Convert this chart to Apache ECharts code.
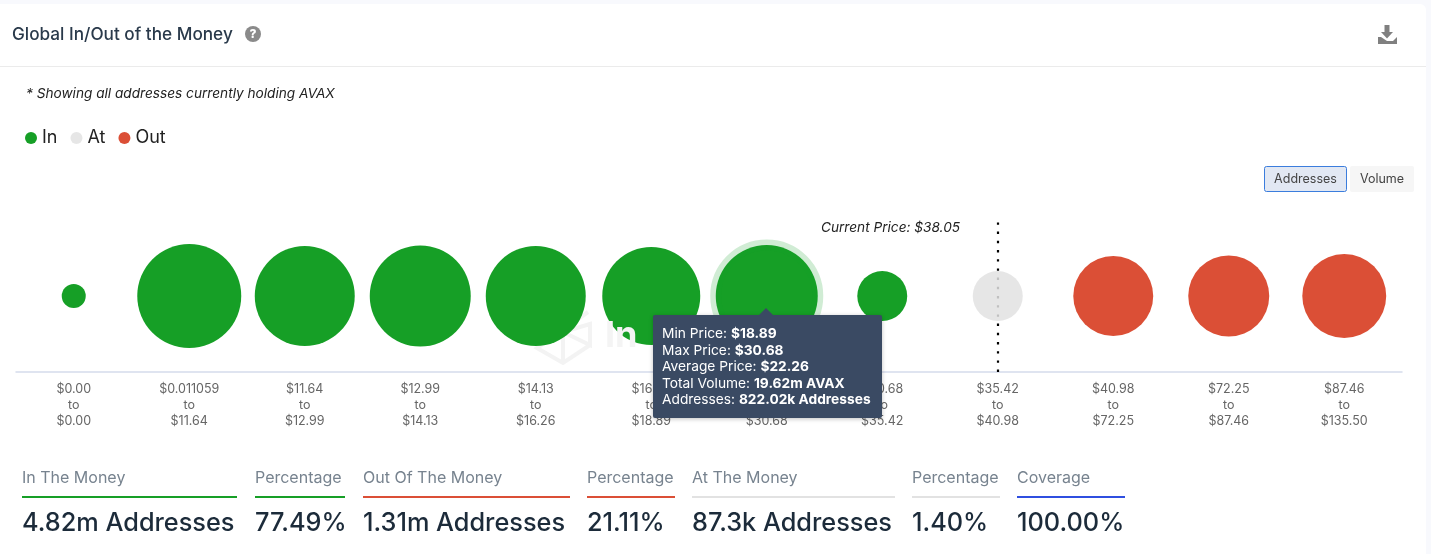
<!DOCTYPE html>
<html>
<head>
<meta charset="utf-8">
<title>Global In/Out of the Money</title>
<style>
html, body { margin: 0; padding: 0; background: #f8f9fd; }
#main { width: 1431px; height: 554px; }
</style>
<script src="https://cdn.jsdelivr.net/npm/echarts@6/dist/echarts.min.js"></script>
</head>
<body>
<div id="main"></div>
<script>
// price buckets
var priceFrom = ['$0.00', '$0.011059', '$11.64', '$12.99', '$14.13', '$16.26', '$18.89', '$30.68', '$35.42', '$40.98', '$72.25', '$87.46'];
var priceTo = ['$0.00', '$11.64', '$12.99', '$14.13', '$16.26', '$18.89', '$30.68', '$35.42', '$40.98', '$72.25', '$87.46', '$135.50'];

// addresses per bucket, in thousands (except the hovered one and At)
var inAddresses = [8.7, 873, 772, 797, 772, 725, 822.02, 87];
var atAddresses = [87.3];
var outAddresses = [382, 398, 445];

var tipLabels = ['Min Price', 'Max Price', 'Average Price', 'Total Volume', 'Addresses'];
var tipValues = ['$18.89', '$30.68', '$22.26', '19.62m AVAX', '822.02k Addresses'];

var statLabels = ['In The Money', 'Percentage', 'Out Of The Money', 'Percentage', 'At The Money', 'Percentage', 'Coverage'];
var statValues = ['4.82m Addresses', '77.49%', '1.31m Addresses', '21.11%', '87.3k Addresses', '1.40%', '100.00%'];

var HOVER_INDEX = 6;
var GREEN = '#169f26', RED = '#db4f36', GREY = '#e2e2e2';
var FONT = 'Inter';

var chart = echarts.init(document.getElementById('main'));

//气泡大小
function bubbleSize(val) {
    return 12.07 * Math.pow(val[2], 0.318);
}

function bubbleData(values, start) {
    return values.map(function (v, i) {
        var item = { value: [start + i, 0.5, v] };
        if (start + i == HOVER_INDEX) {
            item.itemStyle = { borderColor: 'rgba(22,159,38,0.2)', borderWidth: 11 };
        }
        return item;
    });
}

function text(x, y, str, size, color, extra) {
    var style = { x: x, y: y, text: str, fontSize: size, fill: color, fontFamily: FONT, verticalAlign: 'middle' };
    for (var k in extra) style[k] = extra[k];
    return { type: 'text', silent: true, z: 5, style: style };
}

function rect(x, y, w, h, fill, extra) {
    var el = { type: 'rect', silent: true, z: 1, shape: { x: x, y: y, width: w, height: h, r: (extra && extra.r) || 0 },
        style: { fill: fill, stroke: (extra && extra.stroke) || null, lineWidth: 1 } };
    return el;
}

function poly(points, fill) {
    return { type: 'polygon', silent: true, z: 5, shape: { points: points }, style: { fill: fill } };
}

function buildGraphic() {
    var g = [];
    // card
    g.push({ type: 'rect', silent: true, z: 0, shape: { x: -8, y: 4, width: 1434, height: 560, r: 6 }, style: { fill: '#fff' } });
    g.push(rect(0, 66, 1426, 1, '#ebebeb'));

    // header
    g.push(text(12, 34.5, 'Global In/Out of the Money', 17.2, '#2a3a4b', { fontWeight: 500 }));
    g.push({ type: 'circle', silent: true, z: 5, shape: { cx: 253, cy: 34, r: 8 }, style: { fill: '#8a8a8a' } });
    g.push(text(253, 34.5, '?', 12, '#fff', { fontWeight: 800, align: 'center' }));
    g.push(rect(1384.5, 25, 5, 7, '#808080'));
    g.push(poly([[1381, 32], [1393, 32], [1387, 38.5]], '#808080'));
    g.push(poly([[1378, 37], [1381, 37], [1387, 41], [1393, 41], [1397, 37], [1397, 44], [1378, 44]], '#808080'));
    g.push(text(26, 93.5, '* Showing all addresses currently holding AVAX', 13.65, '#222', { fontStyle: 'italic' }));

    // switch buttons
    g.push(rect(1264.5, 166.5, 82, 25, '#e2e8f3', { stroke: '#3b7ddd', r: 2 }));
    g.push(rect(1350, 166, 64, 26, '#f6f6f6', { r: 2 }));
    g.push(text(1305.5, 179.5, 'Addresses', 12.5, '#444', { align: 'center' }));
    g.push(text(1382, 179.5, 'Volume', 12.5, '#444', { align: 'center' }));

    // watermark, mostly hidden by bubbles
    g.push({ type: 'polyline', silent: true, z: 1, shape: { points: [[588, 312], [537, 348], [563, 363], [590, 345]] },
        style: { stroke: '#f3f3f3', lineWidth: 4, fill: null } });
    g.push({ type: 'polyline', silent: true, z: 1, shape: { points: [[563, 363], [563, 332], [590, 324], [590, 345], [563, 332]] },
        style: { stroke: '#f3f3f3', lineWidth: 4, fill: null } });
    g.push(text(605, 336, 'In', 36, '#f4f4f4', { fontWeight: 700 }));

    g.push(text(960, 227.5, 'Current Price: $38.05', 13.65, '#222', { fontStyle: 'italic', align: 'right' }));

    // stats below the chart
    var statLeft = [22, 255, 363, 587, 692, 912, 1017];
    var statRight = [237, 345, 570, 675, 895, 1000, 1125];
    var statColor = [GREEN, GREEN, RED, RED, GREY, GREY, '#2f4fe0'];
    for (var i = 0; i < statLabels.length; i++) {
        g.push(text(statLeft[i], 478, statLabels[i], 16, '#77838f'));
        g.push(rect(statLeft[i], 496, statRight[i] - statLeft[i], 2, statColor[i]));
        g.push(text(statLeft[i], 523.5, statValues[i], 25.3, '#1c2b3a', { fontWeight: 500 }));
    }
    return g;
}

var option = {
    animation: false,
    backgroundColor: 'transparent',
    textStyle: { fontFamily: FONT },
    legend: {
        left: 25, top: 129,
        padding: 0,
        itemWidth: 12, itemHeight: 12, itemGap: 13,
        icon: 'circle',
        selectedMode: false,
        textStyle: { fontSize: 18, color: '#222', fontFamily: FONT },
        data: ['In', 'At', 'Out']
    },
    grid: { left: 16, width: 1386, top: 220, height: 152 },
    xAxis: {
        type: 'category',
        data: priceFrom.map(function (p, i) { return p + '\nto\n' + priceTo[i]; }),
        axisTick: { show: false },
        axisLine: { lineStyle: { color: '#d5dcec', width: 1.5 } },
        axisLabel: { interval: 0, margin: 9, lineHeight: 16, fontSize: 12.5, color: '#666', fontFamily: FONT },
        splitLine: { show: false }
    },
    yAxis: { type: 'value', min: 0, max: 1, show: false },
    tooltip: {
        trigger: 'item',
        alwaysShowContent: true,
        transitionDuration: 0,
        padding: [10, 11, 10, 9],
        backgroundColor: '#3a4a63',
        borderWidth: 0,
        extraCssText: 'border-radius:2px;box-shadow:0 1px 4px rgba(0,0,0,.25);line-height:16.6px;overflow:visible;',
        textStyle: { color: '#fff', fontSize: 13.75, fontFamily: FONT },
        position: function (pt, params, dom, r, size) {
            var p = chart.convertToPixel({ seriesIndex: 0 }, [HOVER_INDEX, 0.5]);
            return [p[0] - size.contentSize[0] / 2 + 1, p[1] + 19];
        },
        formatter: function () {
            var arrow = '<div style="position:absolute;left:50%;top:-7px;margin-left:-8px;width:0;height:0;' +
                'border-left:7px solid transparent;border-right:7px solid transparent;border-bottom:7px solid #3a4a63"></div>';
            return arrow + tipLabels.map(function (l, i) {
                return l + ': <b style="font-weight:700">' + tipValues[i] + '</b>';
            }).join('<br>');
        }
    },
    graphic: buildGraphic(),
    series: [
        { name: 'In', type: 'scatter', symbolSize: bubbleSize, itemStyle: { color: GREEN, opacity: 1 },
          data: bubbleData(inAddresses, 0) },
        { name: 'At', type: 'scatter', symbolSize: bubbleSize, itemStyle: { color: 'rgba(226,226,226,0.85)', opacity: 1 }, z: 3,
          data: bubbleData(atAddresses, inAddresses.length),
          markLine: {
              silent: true, symbol: 'none', label: { show: false }, z: 1,
              lineStyle: { color: '#000', type: [2.4, 6.8], width: 2.2 },
              data: [{ xAxis: inAddresses.length }]
          } },
        { name: 'Out', type: 'scatter', symbolSize: bubbleSize, itemStyle: { color: RED, opacity: 1 },
          data: bubbleData(outAddresses, inAddresses.length + atAddresses.length) }
    ]
};

chart.setOption(option);
chart.dispatchAction({ type: 'showTip', seriesIndex: 0, dataIndex: HOVER_INDEX });
</script>
</body>
</html>
